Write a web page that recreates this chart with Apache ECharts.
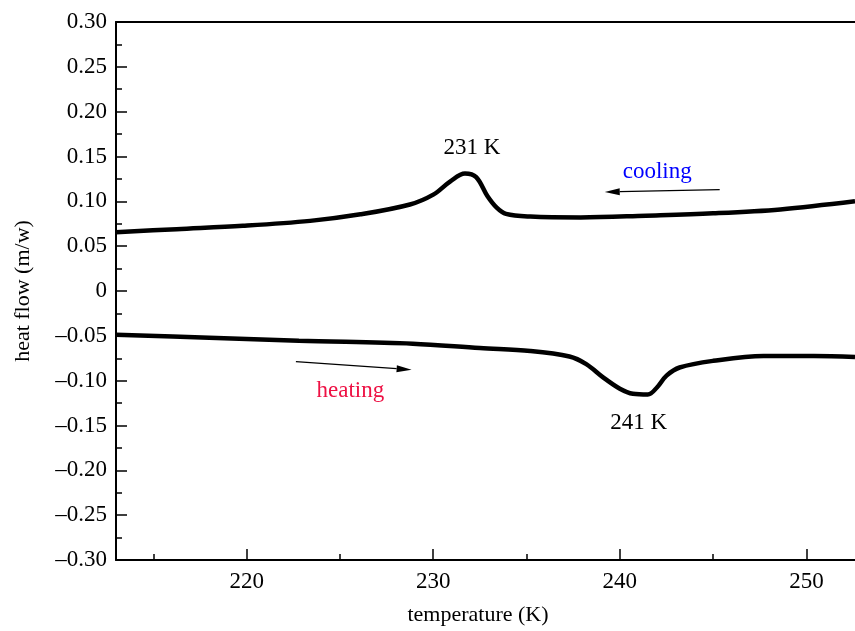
<!DOCTYPE html>
<html>
<head>
<meta charset="utf-8">
<script src="https://cdn.jsdelivr.net/npm/echarts@6/dist/echarts.min.js"></script>
<style>
  html, body { margin: 0; padding: 0; background: #fff; }
  #main { width: 855px; height: 631px; }
</style>
</head>
<body>
<div id="main"></div>
<script>
// cooling run (upper trace)
var coolingT  = [213.0, 216.25, 219.8, 223.4, 226.1, 228.75, 230.0, 230.9, 231.7, 232.3, 232.9, 233.4, 233.9, 235.2, 237.9, 241.4, 245.0, 248.6, 252.6];
var coolingHF = [0.0655, 0.069, 0.0727, 0.0782, 0.0855, 0.0965, 0.1075, 0.122, 0.131, 0.127, 0.106, 0.093, 0.086, 0.083, 0.082, 0.084, 0.0866, 0.091, 0.100];
// heating run (lower trace)
var heatingT  = [213.0, 218.0, 222.8, 228.9, 232.5, 235.2, 237.3, 238.2, 239.1, 240.0, 240.7, 241.5, 242.0, 242.5, 243.2, 245.0, 247.7, 250.4, 252.6];
var heatingHF = [-0.0487, -0.052, -0.0555, -0.0588, -0.0637, -0.0669, -0.0731, -0.0816, -0.0963, -0.109, -0.1146, -0.1154, -0.1073, -0.0944, -0.0853, -0.0779, -0.0724, -0.0724, -0.0735];

var xMajorTicks = [220, 230, 240, 250];
var xMinorTicks = [215, 225, 235, 245];

// text notes and arrows, in data units
var noteText = ['231 K', 'cooling', 'heating', '241 K'];
var noteT    = [232.07, 242.0, 225.56, 241.01];
var noteHF   = [0.159, 0.133, -0.111, -0.1473];
var arrowFrom = [[245.35, 0.113], [222.64, -0.0787]];
var arrowTo   = [[239.19, 0.1105], [228.84, -0.0878]];

var FONT = '"Liberation Serif", "Times New Roman", serif';
var chart = echarts.init(document.getElementById('main'));

function pairs(a, b) { return a.map(function (v, i) { return [v, b[i]]; }); }

chart.setOption({
    animation: false,
    backgroundColor: '#fff',
    grid: { left: 116, top: 22, width: 739, height: 544 },
    xAxis: [{
        type: 'value', position: 'bottom', min: 213, max: 252.6,
        name: 'temperature (K)', nameLocation: 'middle', nameGap: 44,
        nameTextStyle: { fontFamily: FONT, fontSize: 22, color: '#000', padding: [0, 15, 0, 0] },
        axisLine: { onZero: false, lineStyle: { color: '#000', width: 2 } },
        axisTick: { inside: true, length: 11, customValues: xMajorTicks, lineStyle: { color: '#000', width: 1.5 } },
        axisLabel: { customValues: xMajorTicks, margin: 10, fontFamily: FONT, fontSize: 23, color: '#000' },
        splitLine: { show: false }
    }, {
        type: 'value', position: 'bottom', min: 213, max: 252.6,
        axisLine: { show: false, onZero: false },
        axisTick: { inside: true, length: 6, customValues: xMinorTicks, lineStyle: { color: '#000', width: 1.5 } },
        axisLabel: { show: false },
        splitLine: { show: false }
    }, {
        type: 'value', position: 'top', min: 213, max: 252.6,
        axisLine: { onZero: false, lineStyle: { color: '#000', width: 2 } },
        axisTick: { show: false }, axisLabel: { show: false }, splitLine: { show: false }
    }],
    yAxis: {
        type: 'value', min: -0.3, max: 0.3, interval: 0.05,
        name: 'heat flow (m/w)', nameLocation: 'middle', nameGap: 82,
        nameTextStyle: { fontFamily: FONT, fontSize: 22, color: '#000' },
        axisLine: { onZero: false, lineStyle: { color: '#000', width: 2 } },
        axisTick: { inside: true, length: 11, lineStyle: { color: '#000', width: 1.5 } },
        minorTick: { show: true, splitNumber: 2, length: 6, lineStyle: { color: '#000', width: 1.5 } },
        axisLabel: {
            margin: 9, fontFamily: FONT, fontSize: 23, color: '#000',
            formatter: function (v) {
                if (Math.abs(v) < 1e-9) return '0';
                return (v < 0 ? '\u2013' : '') + Math.abs(v).toFixed(2);
            }
        },
        splitLine: { show: false }
    },
    series: [{
        name: 'cooling', type: 'line', xAxisIndex: 0, showSymbol: false, smooth: 0.35,
        lineStyle: { color: '#000', width: 4.5 },
        data: pairs(coolingT, coolingHF)
    }, {
        name: 'heating', type: 'line', xAxisIndex: 0, showSymbol: false, smooth: 0.35,
        lineStyle: { color: '#000', width: 4.5 },
        data: pairs(heatingT, heatingHF)
    }]
});

// annotations placed through the axes' scales
var noteColors = ['#000', '#0000ff', '#ee1144', '#000'];
var toPx = function (p) { return chart.convertToPixel({ xAxisIndex: 0, yAxisIndex: 0 }, p); };
var graphics = [];
noteText.forEach(function (txt, i) {
    var p = toPx([noteT[i], noteHF[i]]);
    graphics.push({
        type: 'text', x: p[0], y: p[1], silent: true,
        style: { text: txt, fill: noteColors[i], font: '23px ' + FONT, align: 'center', verticalAlign: 'middle' }
    });
});
arrowFrom.forEach(function (f, i) {
    var a = toPx(f), b = toPx(arrowTo[i]);
    var dx = b[0] - a[0], dy = b[1] - a[1], len = Math.sqrt(dx * dx + dy * dy);
    var ux = dx / len, uy = dy / len, hl = 15, hw = 3.5;
    var bx = b[0] - ux * hl, by = b[1] - uy * hl;
    graphics.push({
        type: 'line', silent: true,
        shape: { x1: a[0], y1: a[1], x2: bx, y2: by },
        style: { stroke: '#000', lineWidth: 1.2 }
    });
    graphics.push({
        type: 'polygon', silent: true,
        shape: { points: [[b[0], b[1]], [bx - uy * hw, by + ux * hw], [bx + uy * hw, by - ux * hw]] },
        style: { fill: '#000' }
    });
});
chart.setOption({ graphic: graphics });
</script>
</body>
</html>
